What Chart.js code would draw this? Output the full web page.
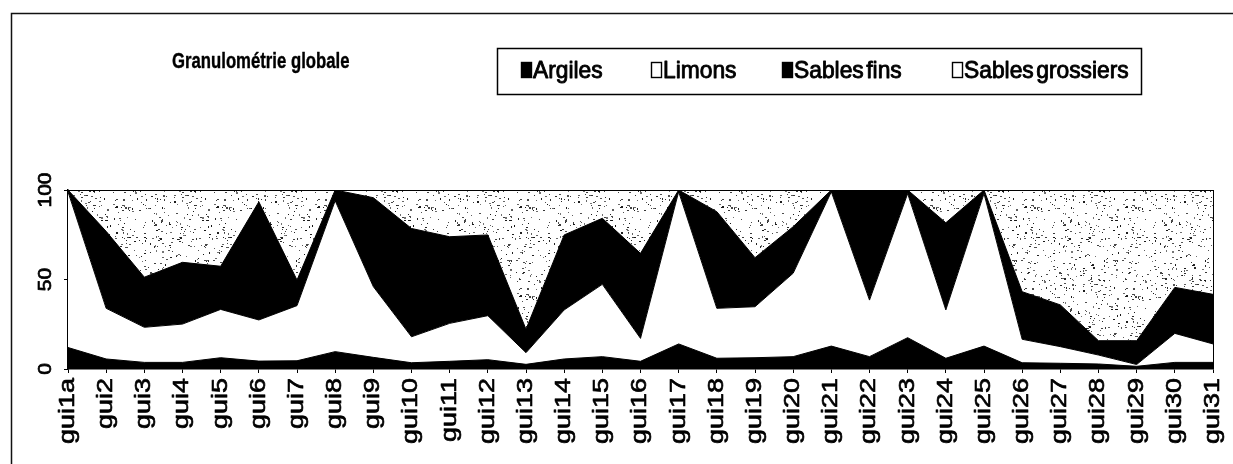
<!DOCTYPE html>
<html lang="fr">
<head>
<meta charset="utf-8">
<title>Granulométrie globale</title>
<script src="https://cdn.jsdelivr.net/npm/chart.js@4.4.1/dist/chart.umd.min.js"></script>
<style>
  html, body { margin: 0; padding: 0; background: #fff; }
  canvas { display: block; }
</style>
</head>
<body>
<canvas id="chart" width="1233" height="464"></canvas>
<script>
// Granulométrie globale : part (%) de chaque fraction par échantillon
const chartTitle = 'Granulométrie globale';

const categories = [
  'gui1a', 'gui2', 'gui3', 'gui4', 'gui5', 'gui6', 'gui7', 'gui8', 'gui9', 'gui10',
  'gui11', 'gui12', 'gui13', 'gui14', 'gui15', 'gui16', 'gui17', 'gui18', 'gui19', 'gui20',
  'gui21', 'gui22', 'gui23', 'gui24', 'gui25', 'gui26', 'gui27', 'gui28', 'gui29', 'gui30',
  'gui31'
];

const argiles = [
  12, 5.6, 3.7, 3.7, 6.3, 4.4, 4.6, 9.7, 6.5, 3.5,
  4.3, 5.2, 2.6, 5.6, 6.9, 4.3, 14, 6, 6.3, 6.9,
  12.8, 6.9, 17.5, 6, 12.8, 3.5, 3.2, 2.8, 1.5, 3.7,
  3.7
];

const limons = [
  87, 28.3, 19.6, 21.4, 27, 23, 30.8, 84.3, 39.5, 14.5,
  21.2, 24.6, 6.5, 27.4, 40.4, 12.8, 85, 27.9, 28.5, 46.6,
  86.2, 31.6, 80.5, 27, 85.2, 13.1, 9.3, 5, 1, 16.2,
  10.3
];

const sablesFins = [
  1, 43, 28, 34.5, 24.1, 66, 14.3, 6, 49.7, 60.5,
  48.4, 45.1, 13.1, 41.9, 36.9, 47.5, 1, 54, 27.4, 26,
  1, 61.5, 2, 48.7, 2, 26.6, 23.3, 8, 13.3, 25.7,
  27.7
];

const sablesGrossiers = [
  0, 23.1, 48.7, 40.4, 42.6, 6.6, 50.3, 0, 4.3, 21.5,
  26.1, 25.1, 77.8, 25.1, 15.8, 35.4, 0, 12.1, 37.8, 20.5,
  0, 0, 0, 18.3, 0, 56.8, 64.2, 84.2, 84.2, 54.4,
  58.3
];

const yTicks = [0, 50, 100];

const FONT = '"Liberation Sans", Arial, Helvetica, sans-serif';
const INK = '#000';

// Grey stipple used to fill the coarse-sand area
function makeStipple() {
  const c = document.createElement('canvas');
  c.width = 101;
  c.height = 89;
  const g = c.getContext('2d');
  g.fillStyle = '#fff';
  g.fillRect(0, 0, c.width, c.height);
  let s = 917;
  const next = () => {
    s = (Math.imul(s, 1103515245) + 12345) >>> 0;
    return s / 4294967296;
  };
  for (let k = 0; k < 340; k++) {
    const x = Math.floor(next() * c.width);
    const y = Math.floor(next() * c.height);
    const shade = 20 + Math.floor(next() * 100);
    g.fillStyle = `rgb(${shade},${shade},${shade})`;
    g.fillRect(x, y, next() < 0.4 ? 2 : 1, next() < 0.2 ? 2 : 1);
  }
  return g.createPattern(c, 'repeat');
}

// Text squeezed horizontally on screen, optionally rotated a quarter turn,
// with a thin outline to give the heavy printed look
function drawText(ctx, text, x, y, o) {
  ctx.save();
  ctx.translate(x, y);
  ctx.scale(o.sx || 1, 1);
  if (o.rotate) ctx.rotate(-Math.PI / 2);
  ctx.font = o.font;
  ctx.fillStyle = INK;
  ctx.strokeStyle = INK;
  ctx.textAlign = o.align || 'left';
  ctx.textBaseline = o.baseline || 'middle';
  if (o.wordSpacing) ctx.wordSpacing = o.wordSpacing;
  if (o.letterSpacing) ctx.letterSpacing = o.letterSpacing;
  ctx.fillText(text, 0, 0);
  if (o.weight) {
    ctx.lineWidth = o.weight;
    ctx.lineJoin = 'round';
    ctx.strokeText(text, 0, 0);
  }
  ctx.restore();
}

const legendSwatches = [
  { x: 521, filled: true },
  { x: 651, filled: false },
  { x: 782, filled: true },
  { x: 952, filled: false }
];

const decor = {
  id: 'decor',
  beforeDraw(chart) {
    const { ctx, width, height } = chart;
    ctx.save();
    ctx.fillStyle = '#fff';
    ctx.fillRect(0, 0, width, height);
    // frame around the chart (top and left edges are in view)
    ctx.strokeStyle = '#111';
    ctx.lineWidth = 1.5;
    ctx.beginPath();
    ctx.moveTo(11.5, height);
    ctx.lineTo(11.5, 13.5);
    ctx.lineTo(width, 13.5);
    ctx.stroke();
    ctx.restore();
  },
  afterDatasetsDraw(chart) {
    const { ctx, chartArea } = chart;
    ctx.save();
    ctx.strokeStyle = INK;
    ctx.lineWidth = 1;
    ctx.beginPath();
    ctx.moveTo(Math.round(chartArea.right) + 0.5, chartArea.top);
    ctx.lineTo(Math.round(chartArea.right) + 0.5, chartArea.bottom);
    ctx.stroke();
    ctx.restore();
  },
  afterDraw(chart) {
    const { ctx } = chart;
    const xs = chart.scales.x;
    const ys = chart.scales.y;

    // value axis labels
    yTicks.forEach(v => {
      drawText(ctx, String(v), 46, ys.getPixelForValue(v),
        { font: `21px ${FONT}`, sx: 0.9, rotate: true, align: 'center', weight: 0.8 });
    });

    // sample labels
    categories.forEach((lab, i) => {
      drawText(ctx, lab, xs.getPixelForValue(i), 378,
        { font: `27px ${FONT}`, sx: 0.8, rotate: true, align: 'right', weight: 0.8 });
    });

    // title
    drawText(ctx, chartTitle, 172, 62,
      { font: `bold 22px ${FONT}`, sx: 0.76, weight: 0.4 });

    // legend
    ctx.save();
    ctx.strokeStyle = INK;
    ctx.lineWidth = 1.5;
    ctx.strokeRect(497.5, 48.5, 644, 46);
    chart.data.datasets.forEach((ds, i) => {
      const sw = legendSwatches[i];
      ctx.fillStyle = sw.filled ? INK : '#fff';
      ctx.fillRect(sw.x, 62, 11, 16);
      ctx.lineWidth = 1.4;
      ctx.strokeRect(sw.x + 0.5, 62.5, 10, 15);
      drawText(ctx, ds.label, sw.x + 12, 71,
        { font: `24px ${FONT}`, sx: 0.95, wordSpacing: '-4px', weight: 0.9 });
    });
    ctx.restore();
  }
};

const common = { borderColor: INK, borderWidth: 1, pointRadius: 0, pointHoverRadius: 0, tension: 0 };

new Chart(document.getElementById('chart'), {
  type: 'line',
  data: {
    labels: categories,
    datasets: [
      { ...common, label: 'Argiles', data: argiles, backgroundColor: INK, fill: 'origin' },
      { ...common, label: 'Limons', data: limons, backgroundColor: '#fff', fill: '-1' },
      { ...common, label: 'Sables fins', data: sablesFins, backgroundColor: INK, fill: '-1' },
      { ...common, label: 'Sables grossiers', data: sablesGrossiers, backgroundColor: makeStipple(), fill: '-1', borderWidth: 2 }
    ]
  },
  options: {
    responsive: false,
    animation: false,
    events: [],
    layout: { padding: { left: 0, top: 190, right: 20, bottom: 0 } },
    plugins: {
      legend: { display: false },
      title: { display: false },
      tooltip: { enabled: false }
    },
    scales: {
      x: {
        grid: { drawOnChartArea: false, drawTicks: true, tickLength: 4, color: INK, lineWidth: 1 },
        border: { display: true, color: INK, width: 1.5 },
        ticks: { display: false },
        afterFit: s => { s.height = 95; }
      },
      y: {
        stacked: true,
        min: 0,
        max: 100,
        afterBuildTicks: s => { s.ticks = yTicks.map(v => ({ value: v })); },
        grid: { drawOnChartArea: false, drawTicks: true, tickLength: 4, color: INK, lineWidth: 1 },
        border: { display: true, color: INK, width: 1.5 },
        ticks: { display: false },
        afterFit: s => { s.width = 68; }
      }
    }
  },
  plugins: [decor]
});
</script>
</body>
</html>
